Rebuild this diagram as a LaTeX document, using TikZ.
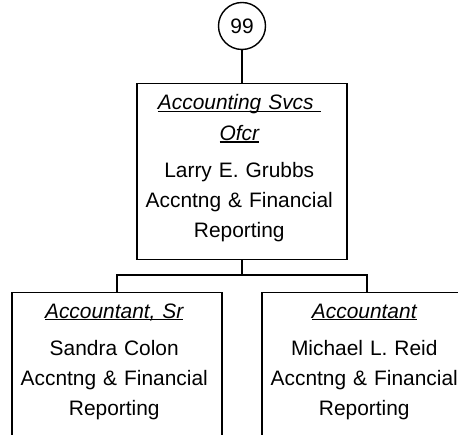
\documentclass[tikz,border=0pt]{standalone}
\usepackage{fontspec}
\setmainfont{Liberation Sans}
\usetikzlibrary{positioning}
% underline that runs through the descenders
\newcommand{\titleline}[1]{\leavevmode\setbox0\hbox{#1}\rlap{\rule[-1.3pt]{\wd0}{0.7pt}}\box0}

\begin{document}
\begin{tikzpicture}[
	font=\fontsize{11.9pt}{17.2pt}\selectfont,
	% Style for position boxes
	post/.style={rectangle, draw, line width=0.8pt, minimum width=4.2cm, minimum height=3.52cm, anchor=north},
	% Style for the text inside a box
	info/.style={text width=4.1cm, align=center, anchor=base, inner sep=0pt},
	% Style for the position number
	num/.style={circle, draw, line width=0.8pt, minimum size=0.94cm, inner sep=0pt},
	% Style for reporting lines
	link/.style={line width=0.8pt}
	]
	
	\useasboundingbox (0,0) rectangle (9.16,-8.70);
	\clip (0,0) rectangle (9.16,-8.70);
	
	% 1. Position number
	\node[num] (n99) at (4.84,-0.52) {99};
	
	% 2. Officer box
	\node[post] (ofcr) at (4.84,-1.66) {};
	\node[info] (ofcr_txt) at (4.785,-2.20) {\titleline{\itshape Accounting Svcs\ }\\ \titleline{\itshape Ofcr}\\[4pt] Larry E. Grubbs\\ Accntng \& Financial\\ Reporting};
	
	% 3. Staff boxes (cut off at the bottom)
	\node[post] (sr) at (2.34,-5.84) {};
	\node[info] (sr_txt) at (2.285,-6.36) {\titleline{\itshape Accountant, Sr}\\[4pt] Sandra Colon\\ Accntng \& Financial\\ Reporting};
	\node[post] (acct) at (7.34,-5.84) {};
	\node[info] (acct_txt) at (7.285,-6.36) {\titleline{\itshape Accountant}\\[4pt] Michael L. Reid\\ Accntng \& Financial\\ Reporting};
	
	% 4. Reporting lines
	\coordinate (split) at (4.84,-5.50);
	\draw[link] (n99) -- (ofcr);
	\draw[link] (ofcr.south) -- (split);
	\draw[link] (split) -| (sr.north);
	\draw[link] (split) -| (acct.north);
	
\end{tikzpicture}
\end{document}
